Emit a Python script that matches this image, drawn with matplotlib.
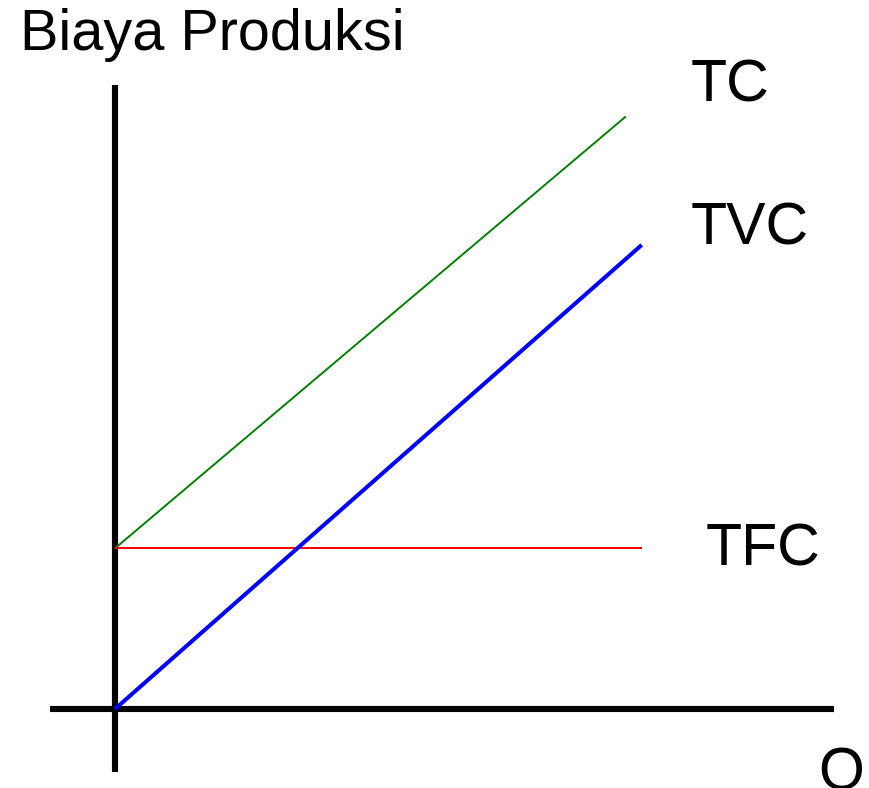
import matplotlib
matplotlib.use("Agg")
import matplotlib.pyplot as plt

plt.rcParams['font.family'] = ['Liberation Sans', 'DejaVu Sans']

# data kurva biaya (satuan bebas)
q_tfc = [0, 10]
tfc = [3.05, 3.05]
q_tvc = [0, 10]
tvc = [0, 8.81]
q_tc = [0, 9.70]
tc = [3.05, 11.25]

labels = ["TC", "TVC", "TFC"]
label_pos = [(10.93, 11.53), (10.93, 8.81), (11.22, 2.73)]

fig = plt.figure(figsize=(8.7, 7.88), dpi=100)
ax = fig.add_axes([0, 0, 1, 1])
ax.set_xlim(-2.183, 14.334)
ax.set_ylim(-1.5, 13.46)
ax.axis('off')

# sumbu
ax.plot([0, 0], [-1.196, 11.85], color='black', lw=4.4, solid_capstyle='butt')
ax.plot([-1.234, 13.65], [0, 0], color='black', lw=4.4, solid_capstyle='butt')

# kurva
ax.plot(q_tc, tc, color='green', lw=1.4, solid_capstyle='butt')
ax.plot(q_tfc, tfc, color='red', lw=1.4, solid_capstyle='butt')
ax.plot(q_tvc, tvc, color='blue', lw=2.9, solid_capstyle='butt')

for lab, (x, y) in zip(labels, label_pos):
    ax.text(x, y, lab, fontsize=42.5, va='baseline', ha='left')

ax.text(-1.80, 12.52, "Biaya Produksi", fontsize=41.5, va='baseline', ha='left')
ax.text(13.36, -1.52, "Q", fontsize=42.5, va='baseline', ha='left')

fig.savefig("out.png", dpi=100)
